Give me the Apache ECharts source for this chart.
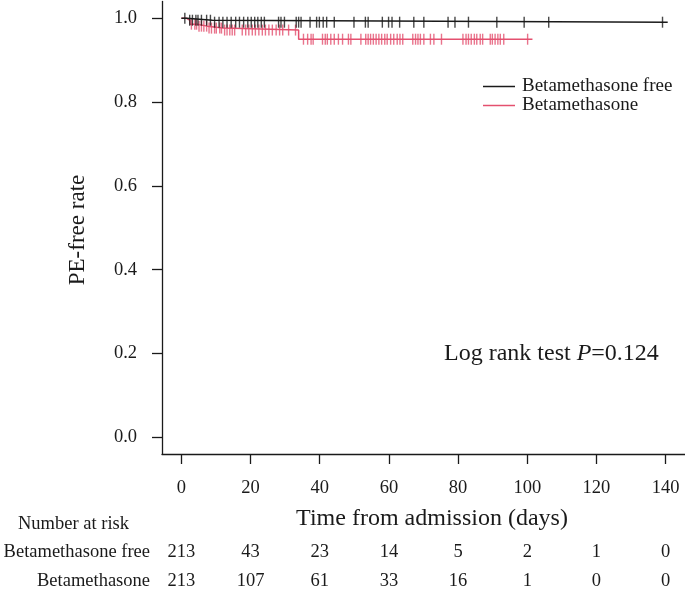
<!DOCTYPE html>
<html>
<head>
<meta charset="utf-8">
<script src="https://cdn.jsdelivr.net/npm/echarts@6/dist/echarts.min.js"></script>
<style>
  html, body { margin: 0; padding: 0; background: #fff; }
  #chart { width: 685px; height: 593px; }
</style>
</head>
<body>
<div id="chart"></div>
<script>
const dayTicks = [0, 20, 40, 60, 80, 100, 120, 140]
const rateTicks = [0, 0.2, 0.4, 0.6, 0.8, 1.0]
const groups = ['Betamethasone free', 'Betamethasone']

// Kaplan-Meier steps
const freeEventDays = [1.5, 9]
const freeSurvival = [0.9953, 0.9906]
const freeLastDay = 140.6
const freeCensorDays = [1.0, 2.4, 3.2, 4.2, 4.8, 5.8, 7.3, 8.4, 9.6, 10.9, 12.0, 13.2, 14.4, 15.7, 16.8, 18.0, 19.2, 20.2, 21.2, 22.1, 23.1, 24.0, 28.1, 28.8, 29.8, 33.2, 33.9, 34.6, 37.2, 39.1, 39.9, 41.0, 42.0, 44.2, 49.9, 53.2, 54.0, 58.1, 59.9, 60.9, 63.1, 67.2, 70.1, 77.1, 79.1, 83.0, 91.2, 99.1, 106.2, 139.1]

const betaEventDays = [1.5, 2.5, 4.5, 7.5, 12, 33.9]
const betaSurvival = [0.9953, 0.9859, 0.9812, 0.9765, 0.9718, 0.950]
const betaLastDay = 101.5
const betaCensorDays = [2.9, 3.9, 4.4, 5.1, 5.8, 6.5, 7.3, 8.0, 8.7, 9.6, 10.1, 11.1, 11.6, 12.5, 13.2, 14.0, 14.7, 15.4, 17.6, 18.6, 19.5, 20.5, 21.4, 22.4, 23.4, 24.3, 25.3, 26.3, 27.4, 28.4, 29.3, 31.0, 33.0, 35.3, 36.5, 37.5, 38.1, 40.8, 41.6, 42.2, 43.2, 44.2, 45.4, 46.6, 48.3, 49.0, 51.9, 53.3, 54.0, 54.7, 55.5, 56.3, 57.1, 57.9, 58.8, 59.5, 60.5, 61.4, 62.4, 63.2, 64.0, 66.9, 67.7, 68.4, 69.1, 70.1, 72.0, 73.0, 75.2, 81.4, 82.3, 83.0, 83.8, 84.7, 85.4, 86.4, 87.1, 89.3, 89.9, 90.7, 91.5, 92.2, 93.2, 100.1]

// number at risk
const riskFree = [213, 43, 23, 14, 5, 2, 1, 0]
const riskBeta = [213, 107, 61, 33, 16, 1, 0, 0]

const SERIF = "'Liberation Serif', 'Times New Roman', serif"
const INK = '#1a1a1a'
const RED = '#e4506f'

function stepLine(times, surv, last) {
  const pts = [[0, 1]]
  let prev = 1
  times.forEach((t, i) => {
    pts.push([t, prev])
    pts.push([t, surv[i]])
    prev = surv[i]
  })
  pts.push([last, prev])
  return pts
}

function survAt(times, surv, t) {
  let s = 1
  times.forEach((et, i) => { if (et <= t) s = surv[i] })
  return s
}

const chart = echarts.init(document.getElementById('chart'))

const riskAxis = (values, offset) => ({
  type: 'value',
  position: 'bottom',
  min: -5.6,
  max: 145.6,
  offset: offset,
  axisLine: { show: false, onZero: false },
  axisTick: { show: false },
  splitLine: { show: false },
  axisLabel: {
    customValues: dayTicks,
    margin: 8,
    fontFamily: SERIF,
    fontSize: 18.5,
    color: INK,
    formatter: v => values[dayTicks.indexOf(v)]
  }
})

chart.setOption({
  animation: false,
  grid: { left: 162, top: 1.5, width: 525.5, height: 452.5 },
  xAxis: [{
    type: 'value',
    min: -5.6,
    max: 145.6,
    axisLine: { show: true, onZero: false, lineStyle: { color: INK, width: 1.3 } },
    axisTick: { show: true, customValues: dayTicks, length: 10, lineStyle: { color: INK, width: 1.3 } },
    splitLine: { show: false },
    axisLabel: { customValues: dayTicks, margin: 25, fontFamily: SERIF, fontSize: 18.5, color: INK }
  }, riskAxis(riskFree, 81), riskAxis(riskBeta, 110)],
  yAxis: {
    type: 'value',
    min: -0.04,
    max: 1.04,
    axisLine: { show: true, onZero: false, lineStyle: { color: INK, width: 1.3 } },
    axisTick: { show: true, customValues: rateTicks, length: 10, lineStyle: { color: INK, width: 1.3 } },
    splitLine: { show: false },
    axisLabel: {
      customValues: rateTicks,
      margin: 25,
      fontFamily: SERIF,
      fontSize: 18.5,
      color: INK,
      formatter: v => v.toFixed(1)
    }
  },
  legend: {
    data: groups,
    orient: 'vertical',
    left: 478,
    top: 72,
    icon: 'rect',
    itemWidth: 32,
    itemHeight: 1.5,
    itemGap: 0,
    textStyle: { fontFamily: SERIF, fontSize: 19, lineHeight: 19, color: INK, padding: [0, 0, 0, 2] }
  },
  series: [{
    name: groups[0],
    type: 'line',
    data: stepLine(freeEventDays, freeSurvival, freeLastDay),
    showSymbol: false,
    lineStyle: { color: INK, width: 1.5 },
    itemStyle: { color: INK },
    z: 3
  }, {
    name: groups[1],
    type: 'line',
    data: stepLine(betaEventDays, betaSurvival, betaLastDay),
    showSymbol: false,
    lineStyle: { color: RED, width: 1.5 },
    itemStyle: { color: RED },
    z: 2
  }, {
    name: 'free-censor',
    type: 'scatter',
    data: freeCensorDays.map(t => [t, survAt(freeEventDays, freeSurvival, t)]),
    symbol: 'rect',
    symbolSize: [1.4, 11],
    itemStyle: { color: INK },
    z: 3
  }, {
    name: 'beta-censor',
    type: 'scatter',
    data: betaCensorDays.map(t => [t, survAt(betaEventDays, betaSurvival, t)]),
    symbol: 'rect',
    symbolSize: [1.4, 11],
    itemStyle: { color: RED },
    z: 2
  }],
  graphic: [{
    type: 'text',
    x: 78, y: 230,
    rotation: Math.PI / 2,
    style: { text: 'PE-free rate', fontFamily: SERIF, fontSize: 23, fill: INK, align: 'center', verticalAlign: 'middle' }
  }, {
    type: 'text',
    x: 432, y: 519,
    style: { text: 'Time from admission (days)', fontFamily: SERIF, fontSize: 24, fill: INK, align: 'center', verticalAlign: 'middle' }
  }, {
    type: 'text',
    x: 444, y: 354,
    style: {
      text: '{a|Log rank test }{i|P}{a|=0.124}',
      verticalAlign: 'middle',
      rich: {
        a: { fontFamily: SERIF, fontSize: 24, fill: INK },
        i: { fontFamily: SERIF, fontSize: 24, fontStyle: 'italic', fill: INK }
      }
    }
  }, {
    type: 'text',
    x: 18, y: 524,
    style: { text: 'Number at risk', fontFamily: SERIF, fontSize: 18.5, fill: INK, verticalAlign: 'middle' }
  }, {
    type: 'text',
    x: 150, y: 552,
    style: { text: groups[0], fontFamily: SERIF, fontSize: 18.5, fill: INK, align: 'right', verticalAlign: 'middle' }
  }, {
    type: 'text',
    x: 150, y: 581,
    style: { text: groups[1], fontFamily: SERIF, fontSize: 18.5, fill: INK, align: 'right', verticalAlign: 'middle' }
  }]
})
</script>
</body>
</html>
